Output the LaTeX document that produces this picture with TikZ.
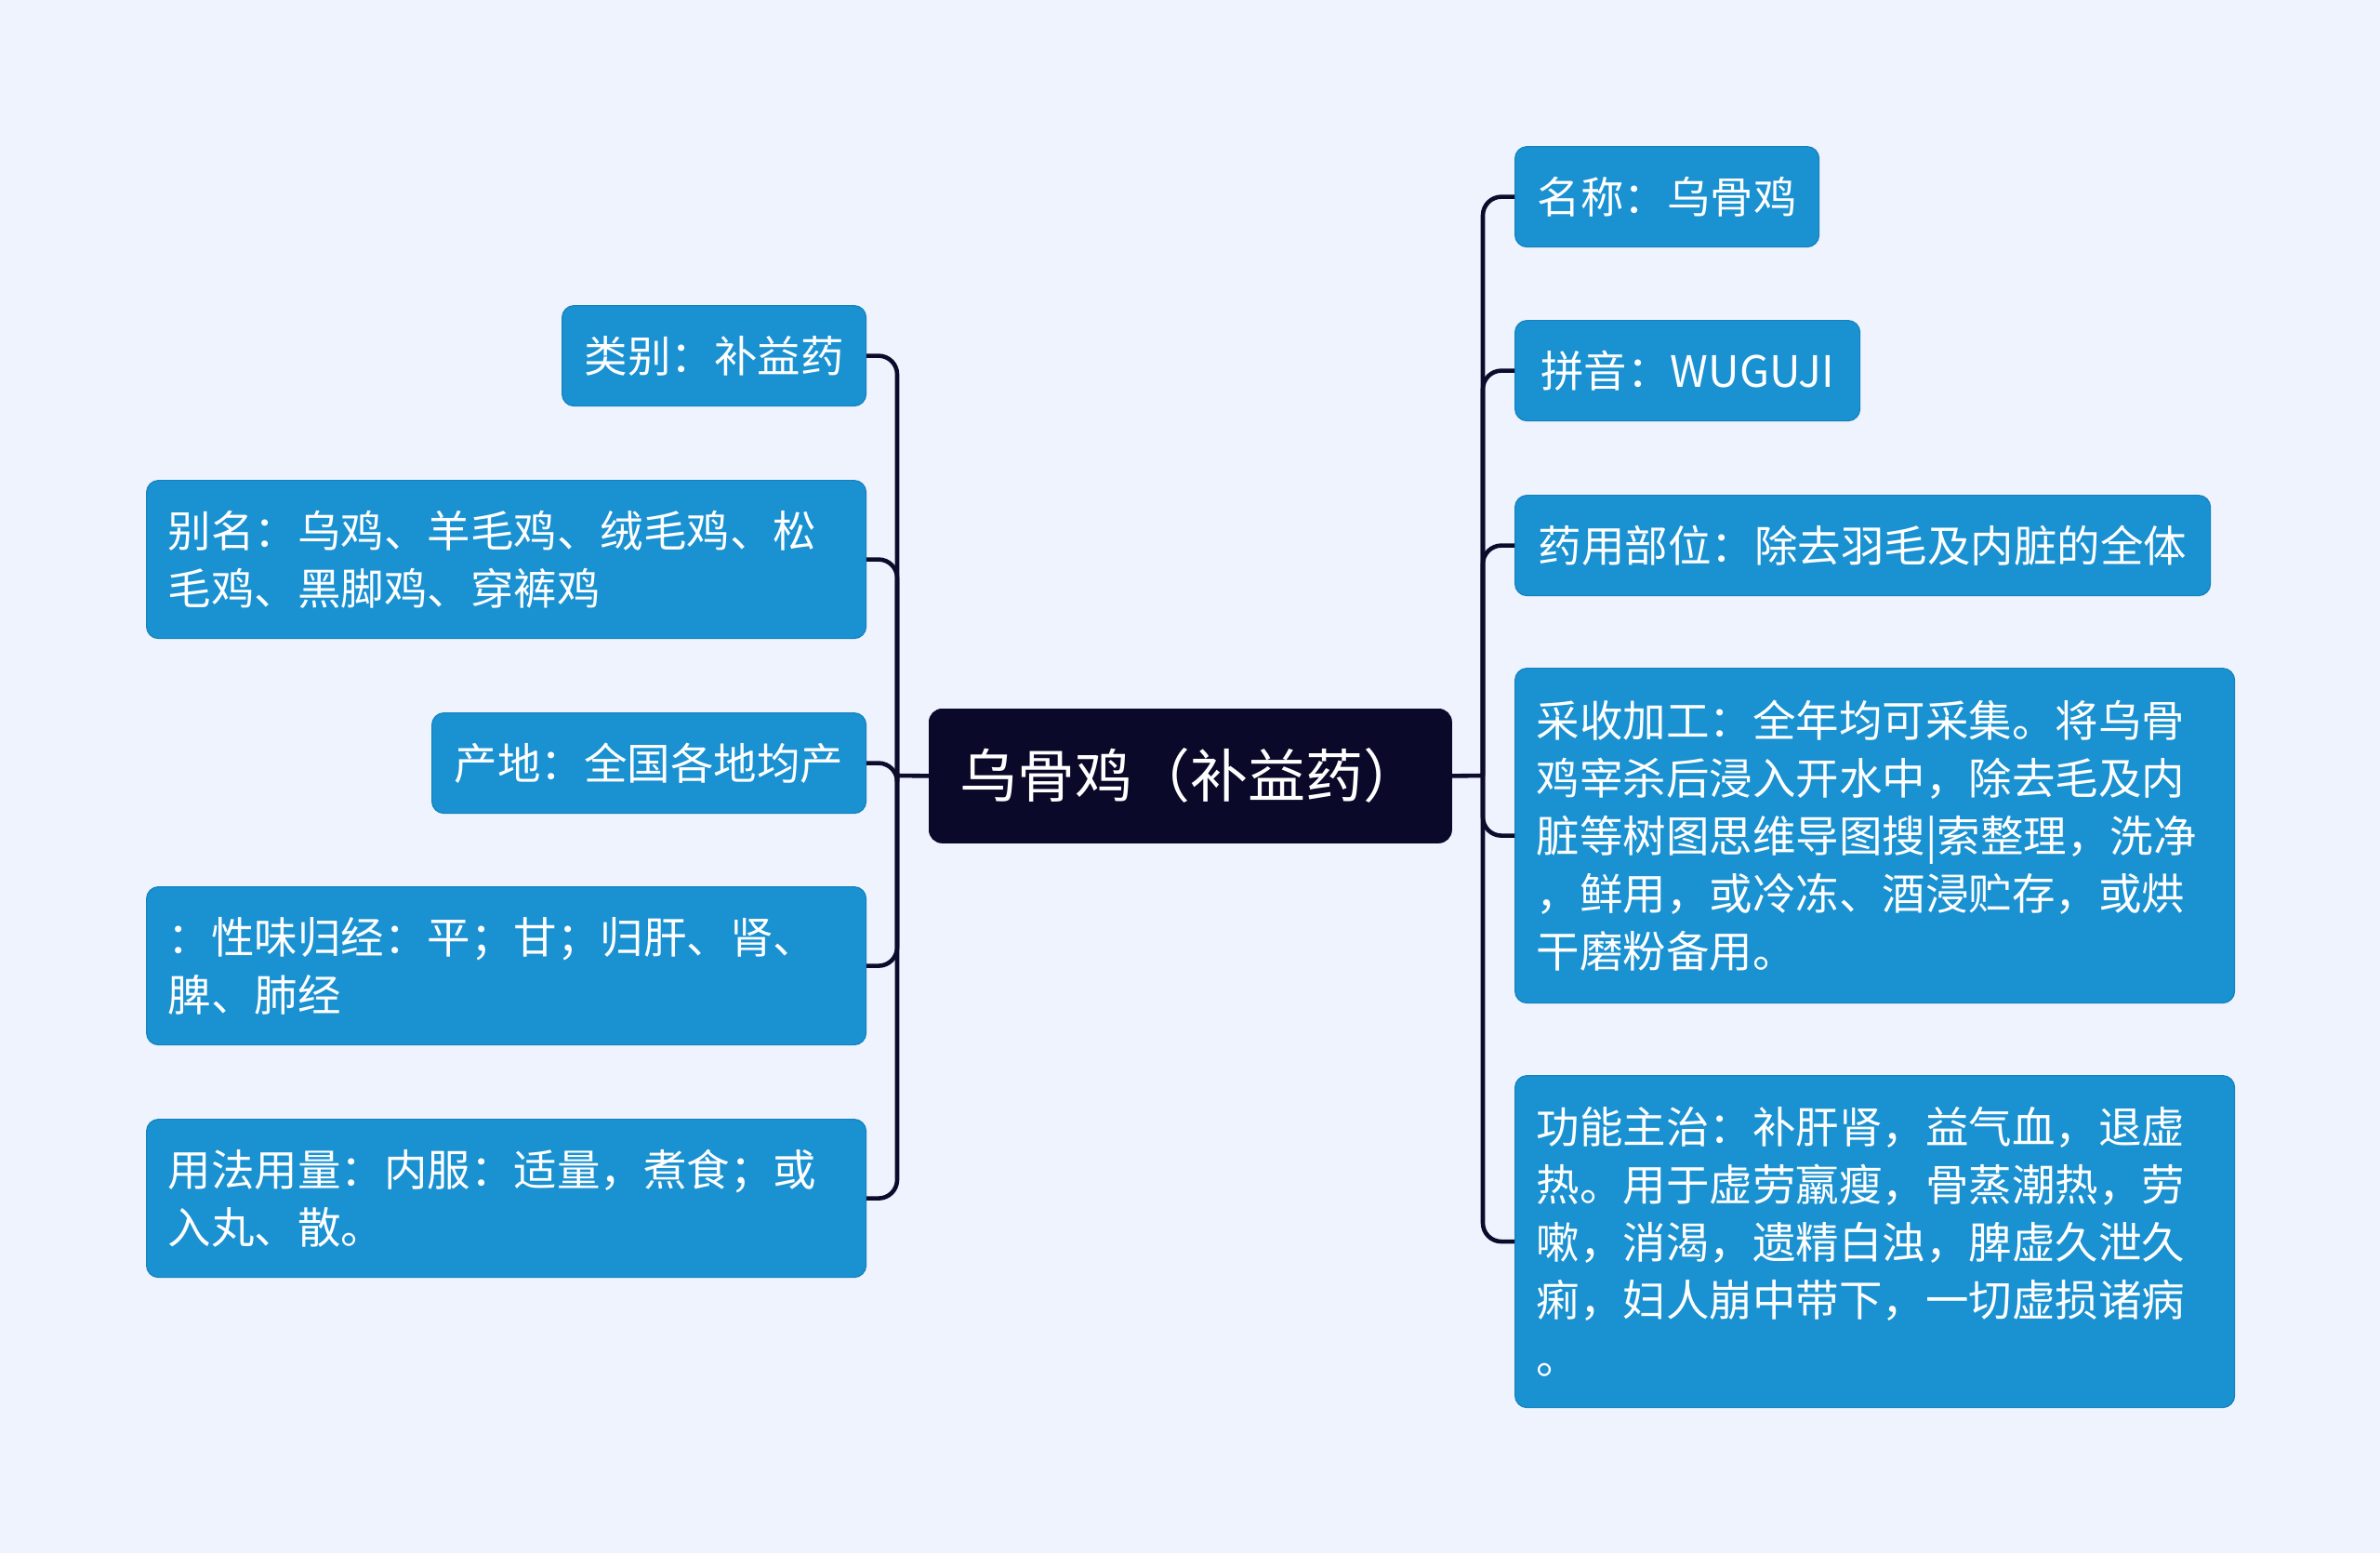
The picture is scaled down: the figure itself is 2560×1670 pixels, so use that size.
\documentclass[tikz,border=0pt]{standalone}
\usepackage{fontspec}
\setmainfont{Noto Sans CJK SC}
\definecolor{bgc}{HTML}{EEF3FD}
\definecolor{nodeblue}{HTML}{1A91D1}
\definecolor{nodeborder}{HTML}{1582BE}
\definecolor{rootc}{HTML}{0B0929}
\definecolor{linec}{HTML}{0D0B2B}
\tikzset{
  child/.style={draw=nodeborder, line width=0.6pt, fill=nodeblue, rounded corners=6.5pt, text=white,
    font=\fontsize{23.25pt}{31pt}\selectfont, inner xsep=11.5pt, inner ysep=0pt,
    anchor=north west, align=left, minimum height=54pt},
  multi/.style={text width=364pt, minimum height=#1},
  rootnode/.style={fill=rootc, draw=rootc, rounded corners=7pt, text=white,
    font=\fontsize{31pt}{38pt}\selectfont, anchor=north west,
    minimum width=281pt, minimum height=72pt, inner sep=0pt},
  conn/.style={draw=linec, line width=2.3pt, rounded corners=10pt}
}
\begin{document}
\begin{tikzpicture}[x=0.5pt,y=-0.5pt]
\fill[bgc] (0,0) rectangle (2560,1670);
\useasboundingbox (0,0) rectangle (2560,1670);

% root
\node[rootnode] (root) at (999,762) {乌骨鸡（补益药）};

% left children
\node[child, minimum width=163.5pt] (l1) at (604,328) {类别：补益药};
\node[child, multi=85pt] (l2) at (157,516) {别名：乌鸡、羊毛鸡、绒毛鸡、松\\毛鸡、黑脚鸡、穿裤鸡};
\node[child, minimum width=233.5pt] (l3) at (464,766) {产地：全国各地均产};
\node[child, multi=85pt] (l4) at (157,953) {：性味归经：平；甘；归肝、肾、\\脾、肺经};
\node[child, multi=85pt] (l5) at (157,1203) {用法用量：内服：适量，煮食；或\\入丸、散。};

% right children
\node[child, minimum width=163.5pt] (r1) at (1629,157) {名称：乌骨鸡};
\node[child, minimum width=185.5pt] (r2) at (1629,344) {拼音：WUGUJI};
\node[child, minimum width=374pt] (r3) at (1629,532) {药用部位：除去羽毛及内脏的全体};
\node[child, multi=180pt] (r4) at (1629,718) {采收加工：全年均可采集。将乌骨\\鸡宰杀后浸入开水中，除去毛及内\\脏等树图思维导图搜|索整理，洗净\\，鲜用，或冷冻、酒浸贮存，或烘\\干磨粉备用。};
\node[child, multi=178.5pt] (r5) at (1629,1156) {功能主治：补肝肾，益气血，退虚\\热。用于虚劳羸瘦，骨蒸潮热，劳\\嗽，消渴，遗精白浊，脾虚久泄久\\痢，妇人崩中带下，一切虚损诸病\\。};

% trunk points
\coordinate (lt) at (965,834);
\coordinate (rt) at (1595,834);

% connectors
\draw[conn] (root.west) -- (lt);
\draw[conn] (root.east) -- (rt);
\foreach \n in {l1,l2,l3,l4,l5} \draw[conn] (\n.east) -| (lt);
\foreach \n in {r1,r2,r3,r4,r5} \draw[conn] (\n.west) -| (rt);
\end{tikzpicture}
\end{document}
